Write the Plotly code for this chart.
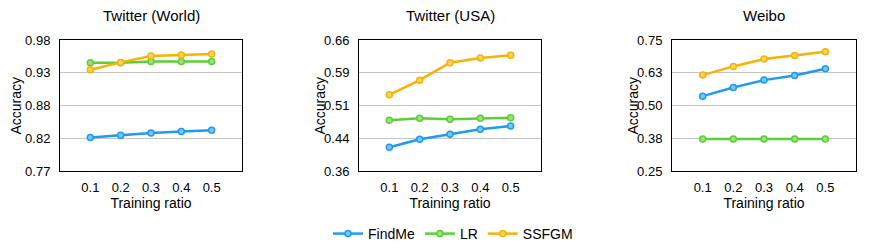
import plotly.graph_objects as go

ratios = [0.1, 0.2, 0.3, 0.4, 0.5]
tick_labels = ["0.1", "0.2", "0.3", "0.4", "0.5"]
panels = ["Twitter (World)", "Twitter (USA)", "Weibo"]
methods = ["FindMe", "LR", "SSFGM"]

world_findme = [0.8236, 0.8273, 0.8310, 0.8332, 0.8354]
world_lr = [0.9436, 0.9436, 0.9457, 0.9457, 0.9457]
world_ssfgm = [0.9323, 0.9441, 0.9543, 0.9559, 0.9575]

usa_findme = [0.4143, 0.4327, 0.4442, 0.4557, 0.4633]
usa_lr = [0.4763, 0.4809, 0.4786, 0.4809, 0.4817]
usa_ssfgm = [0.5345, 0.5680, 0.6080, 0.6187, 0.6248]

weibo_findme = [0.5357, 0.5689, 0.5969, 0.6148, 0.6403]
weibo_lr = [0.3724, 0.3724, 0.3724, 0.3724, 0.3724]
weibo_ssfgm = [0.6161, 0.6492, 0.6773, 0.6913, 0.7054]

y_ranges = [(0.77, 0.98), (0.36, 0.66), (0.25, 0.75)]
y_ticklabels = [["0.77", "0.82", "0.88", "0.93", "0.98"],
                ["0.36", "0.44", "0.51", "0.59", "0.66"],
                ["0.25", "0.38", "0.50", "0.63", "0.75"]]

data = [[world_findme, world_lr, world_ssfgm],
        [usa_findme, usa_lr, usa_ssfgm],
        [weibo_findme, weibo_lr, weibo_ssfgm]]

colors = ["#1E9BF0", "#5CCF34", "#F5B400"]
fills = ["#7CC6F7", "#9BE27E", "#F9D36A"]

FONT = "Liberation Sans, Arial, sans-serif"
W, H = 870, 250
x_dom_px = [(60, 242), (359, 541), (672, 856)]
y_dom = [1 - 171 / H, 1 - 40 / H]
acc_x_px = [15, 319, 632]

fig = go.Figure()
for p in range(3):
    xa = "x" if p == 0 else f"x{p+1}"
    ya = "y" if p == 0 else f"y{p+1}"
    for m in range(3):
        fig.add_trace(go.Scatter(
            x=ratios, y=data[p][m], mode="lines+markers", name=methods[m],
            xaxis=xa, yaxis=ya, showlegend=(p == 0),
            line=dict(color=colors[m], width=2.5),
            marker=dict(symbol="circle", size=6, color=fills[m],
                        line=dict(color=colors[m], width=1.5)),
        ))

layout = dict(
    width=W, height=H, margin=dict(l=0, r=0, t=0, b=0, autoexpand=False),
    paper_bgcolor="white", plot_bgcolor="white",
    font=dict(family=FONT, color="black", size=13),
    showlegend=True,
    legend=dict(orientation="h", x=453 / W, xanchor="center", y=1 - 234 / H,
                yanchor="middle", font=dict(size=14), itemwidth=30,
                bgcolor="rgba(0,0,0,0)"),
)
annotations = []
for p in range(3):
    x0, x1 = x_dom_px[p]
    key = "" if p == 0 else str(p + 1)
    lo, hi = y_ranges[p]
    step = (hi - lo) / 4
    tv = [lo + i * step for i in range(5)]
    layout["xaxis" + key] = dict(
        domain=[x0 / W, x1 / W], range=[0.0, 0.6], anchor="y" + key,
        tickvals=ratios, ticktext=tick_labels, showgrid=False,
        showline=True, linecolor="black", linewidth=1, mirror=True,
        ticks="", ticklabelstandoff=4, zeroline=False, automargin=False,
        tickfont=dict(size=13),
        title=dict(text="Training ratio", font=dict(size=14), standoff=0),
    )
    layout["yaxis" + key] = dict(
        domain=y_dom, range=[lo, hi], anchor="x" + key,
        tickvals=tv, ticktext=y_ticklabels[p], showgrid=True,
        gridcolor="#C4C4C4", gridwidth=1, automargin=False,
        showline=True, linecolor="black", linewidth=1, mirror=True,
        ticks="", ticklabelstandoff=6, zeroline=False,
        tickfont=dict(size=13),
    )
    annotations.append(dict(
        text=panels[p], x=(x0 + x1) / 2 / W, y=1 - 15 / H, xref="paper",
        yref="paper", showarrow=False, xanchor="center", yanchor="middle",
        font=dict(size=15)))
    annotations.append(dict(
        text="Accuracy", x=acc_x_px[p] / W, y=(y_dom[0] + y_dom[1]) / 2,
        xref="paper", yref="paper", showarrow=False, textangle=-90,
        xanchor="center", yanchor="middle", font=dict(size=14)))
layout["annotations"] = annotations
fig.update_layout(**layout)
fig.write_html("out.html", config={"displayModeBar": False},
               post_script="document.body.style.margin='0';")
